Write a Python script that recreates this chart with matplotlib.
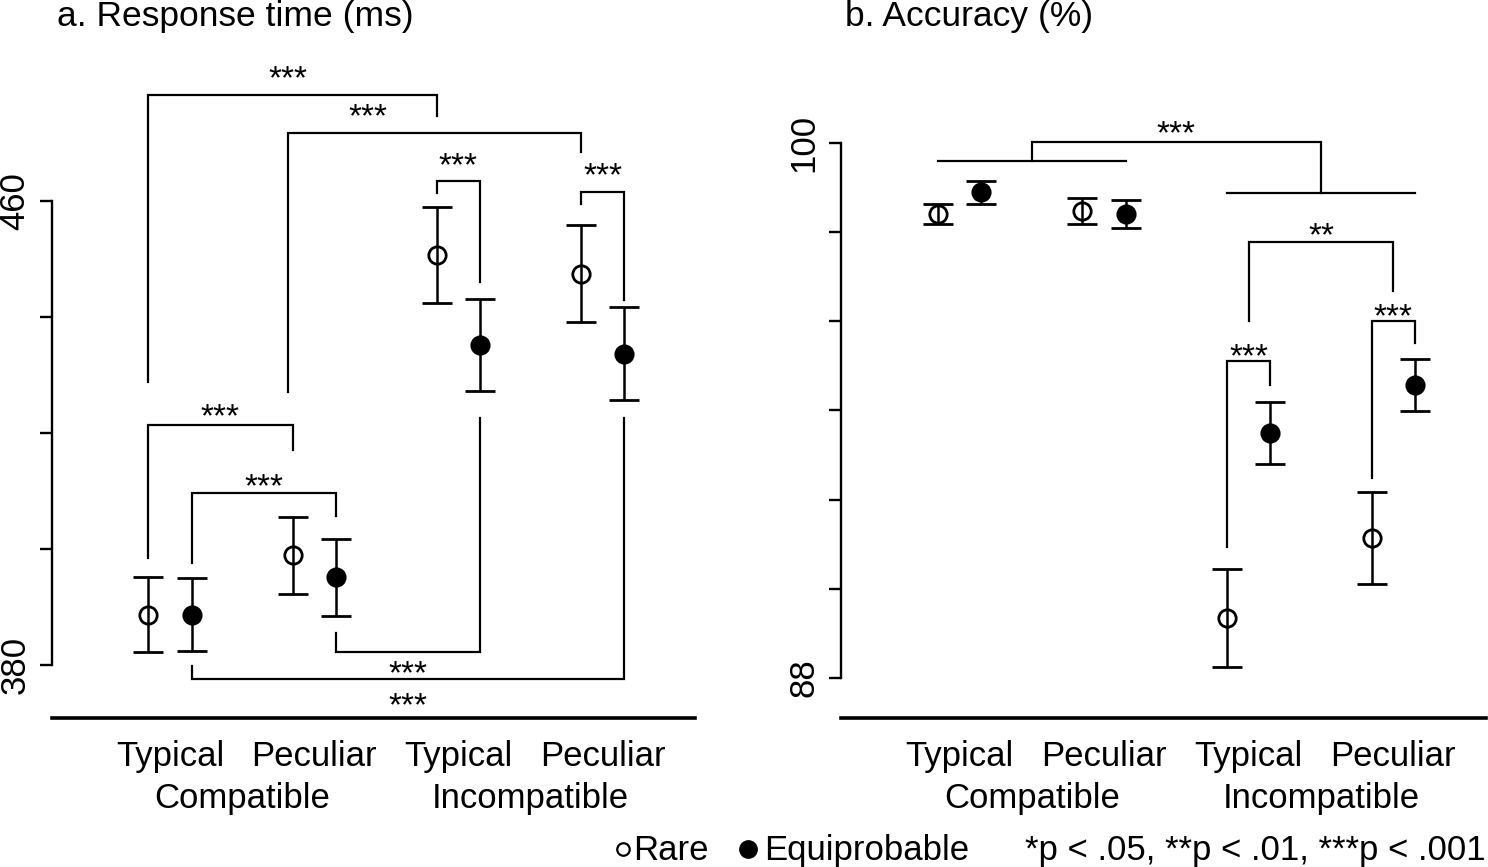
import matplotlib.pyplot as plt
from matplotlib.lines import Line2D

plt.rcParams['font.family'] = ['Liberation Sans', 'DejaVu Sans']

# categories
groups = [1, 2, 3, 4]
conditions = ['Typical', 'Peculiar', 'Typical', 'Peculiar']
blocks = ['Compatible', 'Incompatible']
block_centers = [1.5, 3.5]

# a. response time (ms)
rt_rare = [388.7, 398.9, 450.7, 447.5]
rt_rare_err = [6.4, 6.6, 8.2, 8.4]
rt_equi = [388.7, 395.1, 435.2, 433.7]
rt_equi_err = [6.3, 6.6, 7.9, 8.0]

# b. accuracy (%)
acc_rare = [98.41, 98.47, 89.35, 91.13]
acc_rare_err = [0.23, 0.29, 1.10, 1.03]
acc_equi = [98.89, 98.40, 93.49, 94.57]
acc_equi_err = [0.25, 0.31, 0.70, 0.58]

# significance brackets:
# x1, x2, bar height, left end, right end, label x, label height, label
rt_brackets = [
    (0.85, 2.85, 478.3, 428.8, 474.7, 1.82, 478.3, '***'),
    (1.82, 3.85, 471.7, 427.1, 468.4, 2.37, 471.7, '***'),
    (2.85, 3.15, 463.4, 461.4, 446.0, 3.0, 463.3, '***'),
    (3.85, 4.15, 461.5, 459.5, 442.9, 4.0, 461.5, '***'),
    (0.85, 1.85, 421.4, 398.4, 417.1, 1.35, 420.0, '***'),
    (1.15, 2.15, 409.7, 397.6, 405.7, 1.65, 407.9, '***'),
    (2.15, 3.15, 382.2, 385.5, 422.6, 2.65, 376.9, '***'),
    (1.15, 4.15, 377.6, 379.8, 422.6, 2.65, 371.4, '***'),
]
acc_brackets = [
    (1.5, 3.5, 100.02, 99.60, 98.88, 2.5, 99.84, '***'),
    (3.0, 4.0, 97.78, 96.01, 96.68, 3.5, 97.56, '**'),
    (2.85, 3.15, 95.11, 90.94, 94.57, 3.0, 94.84, '***'),
    (3.85, 4.15, 96.01, 92.49, 95.51, 4.0, 95.74, '***'),
]
# horizontal lines grouping the conditions of each block (x1, x2, y)
acc_group_lines = [(0.85, 2.15, 99.60), (2.85, 4.15, 98.88)]

W, H = 1488, 867
OFF = 0.15


def px_rect(x0, x1, ytop, ybot):
    return [x0 / W, 1 - ybot / H, (x1 - x0) / W, (ybot - ytop) / H]


def draw_panel(ax, rare, rare_err, equi, equi_err, brackets, yticks, ylabels, ylim):
    xr = [g - OFF for g in groups]
    xe = [g + OFF for g in groups]
    style = dict(fmt='o', ms=12.5, mec='black', mew=2.0, ecolor='black',
                 elinewidth=1.8, capsize=11, capthick=2.6, zorder=3)
    ax.errorbar(xr, rare, yerr=rare_err, mfc='none', **style)
    ax.errorbar(xe, equi, yerr=equi_err, mfc='black', **style)
    for x1, x2, yh, y1, y2, lx, ly, lab in brackets:
        ax.plot([x1, x1, x2, x2], [y1, yh, yh, y2], color='black', lw=1.6,
                solid_joinstyle='miter', zorder=2)
        # labels above a bracket sit a little higher than the bar
        dy = 5 if y1 < yh else 0
        ax.annotate(lab, (lx, ly), xytext=(0, dy), textcoords='offset points',
                    ha='center', va='baseline', fontsize=24)
    ax.set_xlim(0.182, 4.64)
    ax.set_ylim(*ylim)
    ax.set_yticks(yticks)
    ax.set_yticklabels(ylabels, rotation=90, va='center')
    ax.tick_params(axis='y', length=8.6, width=1.7, pad=6, labelsize=25)
    ax.tick_params(axis='x', bottom=False, labelbottom=False)
    for s in ['top', 'right']:
        ax.spines[s].set_visible(False)
    ax.spines['left'].set_bounds(yticks[0], yticks[-1])
    ax.spines['left'].set_linewidth(1.7)
    ax.spines['bottom'].set_linewidth(2.6)
    tr = ax.get_xaxis_transform()
    for g, lab in zip(groups, conditions):
        ax.text(g, -0.0708, lab, transform=tr, ha='center', va='baseline', fontsize=25)
    for c, lab in zip(block_centers, blocks):
        ax.text(c, -0.1327, lab, transform=tr, ha='center', va='baseline', fontsize=25)


fig = plt.figure(figsize=(W / 100, H / 100), dpi=100)

ax1 = fig.add_axes(px_rect(52, 695, 40, 718))
draw_panel(ax1, rt_rare, rt_rare_err, rt_equi, rt_equi_err, rt_brackets,
           [380, 400, 420, 440, 460], ['380', '', '', '', '460'], (370.86, 487.76))

ax2 = fig.add_axes(px_rect(841, 1486, 40, 718))
draw_panel(ax2, acc_rare, acc_rare_err, acc_equi, acc_equi_err, acc_brackets,
           [88, 90, 92, 94, 96, 98, 100], ['88', '', '', '', '', '', '100'], (87.10, 102.31))
for x1, x2, y in acc_group_lines:
    ax2.plot([x1, x2], [y, y], color='black', lw=1.6, zorder=2)

fig.text(57 / W, 1 - 26 / H, 'a. Response time (ms)', fontsize=25.5, va='baseline')
fig.text(845 / W, 1 - 26 / H, 'b. Accuracy (%)', fontsize=25.5, va='baseline')

# legend row
fig.add_artist(Line2D([623 / W], [1 - 849 / H], marker='o', ms=9, mfc='none',
                      mec='black', mew=1.6, transform=fig.transFigure))
fig.text(633 / W, 1 - 860 / H, 'Rare', fontsize=25, va='baseline')
fig.add_artist(Line2D([748 / W], [1 - 849 / H], marker='o', ms=12.5, mfc='black',
                      mec='black', transform=fig.transFigure))
fig.text(764 / W, 1 - 860 / H, 'Equiprobable', fontsize=25, va='baseline')
fig.text(1486 / W, 1 - 860 / H, '*p < .05, **p < .01, ***p < .001', fontsize=25,
         va='baseline', ha='right')

fig.savefig('out.png', dpi=100)
